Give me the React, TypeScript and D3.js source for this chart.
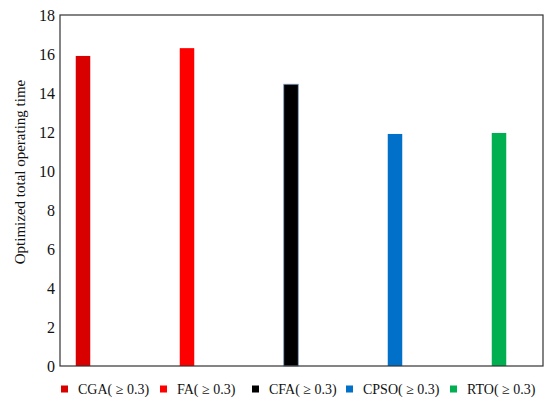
import { useEffect, useRef } from "react";
import * as d3 from "d3";

const algorithms = ["CGA", "FA", "CFA", "CPSO", "RTO"];
const operatingTime = [15.9, 16.3, 14.45, 11.9, 11.95];
const barColors = ["#d90000", "#ff0000", "#000000", "#0070c8", "#00b050"];
const legendLabels = ["CGA( ≥ 0.3)", "FA( ≥ 0.3)", "CFA( ≥ 0.3)", "CPSO( ≥ 0.3)", "RTO( ≥ 0.3)"];
const yTicks = [0, 2, 4, 6, 8, 10, 12, 14, 16, 18];

export default function App() {
  const svgRef = useRef<SVGSVGElement | null>(null);

  useEffect(() => {
    const width = 550;
    const height = 403;
    const margin = { top: 15, right: 7, bottom: 37, left: 60 };
    const font = "Liberation Serif";

    const svg = d3.select(svgRef.current);
    svg.selectAll("*").remove();
    svg.attr("width", width).attr("height", height);

    const x = d3
      .scalePoint<string>()
      .domain(algorithms)
      .range([83, 499]);

    const y = d3
      .scaleLinear()
      .domain([0, 18])
      .range([height - margin.bottom, margin.top]);

    const barWidth = 14.5;

    // bars
    svg
      .append("g")
      .selectAll("rect")
      .data(algorithms)
      .join("rect")
      .attr("x", (d) => (x(d) as number) - barWidth / 2)
      .attr("y", (d, i) => y(operatingTime[i]))
      .attr("width", barWidth)
      .attr("height", (d, i) => y(0) - y(operatingTime[i]))
      .attr("fill", (d, i) => barColors[i])
      .attr("stroke", (d, i) => (i === 2 ? "#7a9cc8" : "none"))
      .attr("stroke-width", 0.8);

    // frame
    svg
      .append("rect")
      .attr("x", margin.left)
      .attr("y", margin.top)
      .attr("width", width - margin.left - margin.right)
      .attr("height", y(0) - margin.top)
      .attr("fill", "none")
      .attr("stroke", "#333")
      .attr("stroke-width", 1.2);

    // y tick labels
    svg
      .append("g")
      .selectAll("text")
      .data(yTicks)
      .join("text")
      .attr("x", margin.left - 5)
      .attr("y", (d) => y(d))
      .attr("dy", "0.35em")
      .attr("text-anchor", "end")
      .style("font-family", font)
      .style("font-size", "16px")
      .attr("fill", "#111")
      .text((d) => d);

    // y axis label
    svg
      .append("text")
      .attr("transform", "translate(20, 172) rotate(-90)")
      .attr("text-anchor", "middle")
      .attr("dy", "0.35em")
      .style("font-family", font)
      .style("font-size", "15px")
      .attr("fill", "#111")
      .text("Optimized total operating time");

    // legend
    const legendX = [61, 160, 252, 346, 450];
    const legend = svg
      .append("g")
      .selectAll("g")
      .data(legendLabels)
      .join("g")
      .attr("transform", (d, i) => `translate(${legendX[i]}, 389)`);

    legend
      .append("rect")
      .attr("x", 0)
      .attr("y", -3.5)
      .attr("width", 7)
      .attr("height", 7)
      .attr("fill", (d, i) => barColors[i]);

    legend
      .append("text")
      .attr("x", 17)
      .attr("dy", "0.35em")
      .style("font-family", font)
      .style("font-size", "14px")
      .attr("fill", "#111")
      .text((d) => d);
  }, []);

  return (
    <svg
      ref={svgRef}
      style={{ position: "absolute", left: 0, top: 0, display: "block" }}
    ></svg>
  );
}
